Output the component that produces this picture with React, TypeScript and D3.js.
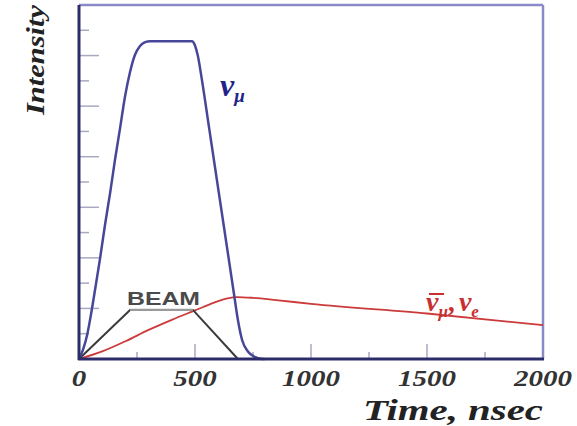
import React from 'react';
import * as d3 from 'd3';

// nu_mu flux (time in nsec, intensity in arbitrary units)
const numuTime = [0, 17, 35, 52, 69, 91, 112, 134, 155, 177, 198, 220, 241, 263, 285, 306, 487, 500, 512, 530, 560, 600, 640, 670, 685, 703, 728, 760, 790, 800];
const numuValue = [0, 0.36, 0.95, 1.78, 2.73, 3.99, 5.3, 6.56, 7.87, 9.13, 10.36, 11.35, 12.02, 12.38, 12.53, 12.57, 12.57, 12.4, 12.0, 11.03, 9.19, 6.74, 4.29, 2.45, 1.54, 0.75, 0.3, 0.07, 0, 0];

// anti-nu_mu, nu_e flux
const nueTime = [0, 100, 200, 300, 400, 500, 580, 640, 680, 750, 850, 1000, 1500, 2000];
const nueValue = [0, 0.3, 0.7, 1.15, 1.55, 1.92, 2.22, 2.4, 2.45, 2.42, 2.33, 2.18, 1.8, 1.34];

// beam pulse
const beamTime = [0, 220, 491, 685];
const beamValue = [0, 1.94, 1.94, 0];

const xTickValues = [0, 500, 1000, 1500, 2000];
const xMinorTicks = [250, 750, 1250, 1750];
const yTickValues = [1, 2, 3, 4, 5, 6, 7, 8, 9, 10, 11, 12, 13];

type Pt = { t: number; v: number };
const zip = (ts: number[], vs: number[]): Pt[] => ts.map((t, i) => ({ t, v: vs[i] }));

const serif = '"Liberation Serif", "Times New Roman", serif';

export default function App() {
  const x = d3.scaleLinear().domain([0, 2000]).range([79, 543]);
  const y = d3.scaleLinear().domain([0, 14]).range([359, 5]);

  const smooth = d3.line<Pt>().x(d => x(d.t)).y(d => y(d.v)).curve(d3.curveMonotoneX);
  const straight = d3.line<Pt>().x(d => x(d.t)).y(d => y(d.v));

  const beam = zip(beamTime, beamValue);

  return (
    <svg width={577} height={426} style={{ position: 'absolute', left: 0, top: 0, background: '#fff' }}>
      {/* y ticks */}
      {yTickValues.map(v => (
        <line key={'y' + v} x1={x(0)} x2={x(0) + (v % 2 === 0 ? 20 : 10)} y1={y(v)} y2={y(v)}
          stroke="#a8a8c0" strokeWidth={1.5} />
      ))}
      {/* x ticks */}
      {xTickValues.slice(1, -1).map(t => (
        <line key={'x' + t} x1={x(t)} x2={x(t)} y1={y(0)} y2={y(0) - 15} stroke="#a8a8c0" strokeWidth={1.5} />
      ))}
      {xMinorTicks.map(t => (
        <line key={'xm' + t} x1={x(t)} x2={x(t)} y1={y(0)} y2={y(0) - 7} stroke="#a8a8c0" strokeWidth={1.5} />
      ))}

      {/* frame */}
      <line x1={x(0)} x2={x(2000)} y1={y(14)} y2={y(14)} stroke="#8a8ac8" strokeWidth={2.5} />
      <line x1={x(2000)} x2={x(2000)} y1={y(14)} y2={y(0)} stroke="#8a8ac8" strokeWidth={2.5} />

      {/* curves */}
      <path d={smooth(zip(nueTime, nueValue)) || ''} fill="none" stroke="#cc3a3a" strokeWidth={1.8} />
      <path d={straight(beam) || ''} fill="none" stroke="#3a3a3a" strokeWidth={2} />
      <path d={straight(beam.slice(1, 3)) || ''} fill="none" stroke="#9a9a9a" strokeWidth={2.2} />
      <path d={smooth(zip(numuTime, numuValue)) || ''} fill="none" stroke="#47479a" strokeWidth={2.5} />

      <line x1={x(0)} x2={x(0)} y1={y(14)} y2={y(0) + 1} stroke="#2c2c6a" strokeWidth={3} />
      <line x1={x(0) - 1} x2={x(2000) + 1} y1={y(0)} y2={y(0)} stroke="#2c2c6a" strokeWidth={3} />

      {/* x tick labels */}
      {xTickValues.map(t => (
        <text key={'xl' + t} x={x(t)} y={386} textAnchor="middle" fontFamily={serif} fontStyle="italic"
          fontWeight="bold" fontSize={24} fill="#333" textLength={String(t).length * 14.5}
          lengthAdjust="spacingAndGlyphs">{t}</text>
      ))}

      {/* axis titles */}
      <text x={453} y={420} textAnchor="middle" fontFamily={serif} fontStyle="italic" fontWeight="bold"
        fontSize={30} fill="#222" textLength={180} lengthAdjust="spacingAndGlyphs">Time, nsec</text>
      <text transform="translate(44,60) rotate(-90)" textAnchor="middle" fontFamily={serif} fontStyle="italic"
        fontWeight="bold" fontSize={26} fill="#222" textLength={110} lengthAdjust="spacingAndGlyphs">Intensity</text>

      {/* annotations */}
      <text x={127} y={305} fontFamily='"Liberation Sans", Arial, sans-serif' fontWeight="bold" fontSize={19}
        fill="#4a4a4a" textLength={73} lengthAdjust="spacingAndGlyphs">BEAM</text>
      <text x={220} y={96} fontFamily={serif} fontStyle="italic" fontWeight="bold" fontSize={32} fill="#22228a">
        ν<tspan fontSize={19} dy={6}>μ</tspan>
      </text>
      <text x={426} y={311} fontFamily={serif} fontStyle="italic" fontWeight="bold" fontSize={28} fill="#c83030">
        ν<tspan fontSize={17} dy={6}>μ</tspan><tspan dx={1} dy={-6}>,</tspan><tspan dx={3}>ν</tspan><tspan fontSize={17} dy={6}>e</tspan>
      </text>
      <line x1={429} x2={444} y1={294} y2={294} stroke="#c83030" strokeWidth={2} />
    </svg>
  );
}
